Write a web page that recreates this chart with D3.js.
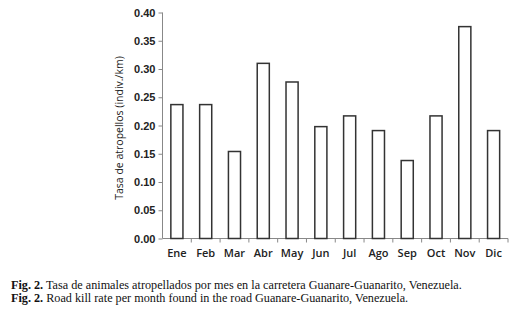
<!DOCTYPE html>
<html>
<head>
<meta charset="utf-8">
<script src="https://cdn.jsdelivr.net/npm/d3@7"></script>
<style>
  body { margin: 0; background: #fff; }
  #chart svg { display: block; }
</style>
</head>
<body>
<div id="chart"></div>
<script>
// meses y tasas
let months = ["Ene", "Feb", "Mar", "Abr", "May", "Jun", "Jul", "Ago", "Sep", "Oct", "Nov", "Dic"];
let rates = [0.237, 0.237, 0.154, 0.310, 0.277, 0.198, 0.217, 0.191, 0.138, 0.217, 0.375, 0.191];
let yTicks = [0, 0.05, 0.10, 0.15, 0.20, 0.25, 0.30, 0.35, 0.40];
let captionEs = "Tasa de animales atropellados por mes en la carretera Guanare-Guanarito, Venezuela.";
let captionEn = "Road kill rate per month found in the road Guanare-Guanarito, Venezuela.";

let width = 513,
  height = 317;

let x = d3.scaleBand()
  .domain(months)
  .range([162.5, 508])
  .paddingInner(0.58)
  .paddingOuter(0.29);

let y = d3.scaleLinear()
  .domain([0, 0.4])
  .range([238.5, 12.5]);

function chart() {
  const svg = d3.select('#chart').append('svg')
    .attr('width', width)
    .attr('height', height)
    .style('font-family', '"Open Sans", sans-serif');

  // eje y
  const yAxis = svg.append('g')
    .attr('transform', 'translate(162.5,0)')
    .call(d3.axisLeft(y).tickValues(yTicks).tickFormat(d3.format('.2f')).tickSize(4).tickPadding(3));
  yAxis.select('.domain').attr('stroke', '#888').attr('d', `M-0,${y(0.4)}V${y(0)}`);
  yAxis.selectAll('.tick line').attr('stroke', '#888');
  yAxis.selectAll('.tick text')
    .attr('fill', '#222')
    .style('font-size', '11px')
    .style('font-weight', 600);

  // eje x: marcas en los límites de cada mes
  const xAxis = svg.append('g')
    .attr('transform', `translate(0,${y(0)})`);
  xAxis.append('line')
    .attr('x1', x.range()[0]).attr('x2', x.range()[1])
    .attr('stroke', '#888');
  xAxis.selectAll('line.tk')
    .data(months.slice(1).concat(['end']))
    .enter().append('line')
      .attr('class', 'tk')
      .attr('x1', (d, i) => x.range()[0] + (i + 1) * x.step())
      .attr('x2', (d, i) => x.range()[0] + (i + 1) * x.step())
      .attr('y1', 0).attr('y2', 4)
      .attr('stroke', '#888');
  xAxis.selectAll('text')
    .data(months)
    .enter().append('text')
      .attr('x', d => x(d) + x.bandwidth() / 2)
      .attr('y', 18)
      .attr('text-anchor', 'middle')
      .attr('fill', '#222')
      .style('font-size', '11px')
      .style('font-weight', 600)
      .text(d => d);

  // barras
  svg.append('g').selectAll('rect')
    .data(months)
    .enter().append('rect')
      .attr('x', d => x(d))
      .attr('y', (d, i) => y(rates[i]))
      .attr('width', x.bandwidth())
      .attr('height', (d, i) => y(0) - y(rates[i]))
      .attr('fill', 'white')
      .attr('stroke', '#333')
      .attr('stroke-width', 1.5);

  // título del eje y
  svg.append('text')
    .attr('transform', 'translate(123,128) rotate(-90)')
    .attr('text-anchor', 'middle')
    .attr('fill', '#222')
    .style('font-size', '10.5px')
    .text('Tasa de atropellos (indiv./km)');

  // leyenda de la figura
  const cap = svg.append('g')
    .style('font-family', '"Liberation Serif", "Times New Roman", serif')
    .style('font-size', '12.2px')
    .attr('fill', '#111');
  [captionEs, captionEn].forEach((c, i) => {
    const t = cap.append('text').attr('x', 11).attr('y', 289 + i * 13);
    t.append('tspan').style('font-weight', 'bold').text('Fig. 2.');
    t.append('tspan').text(' ' + c);
  });

  return svg.node();
}

chart();
</script>
</body>
</html>
